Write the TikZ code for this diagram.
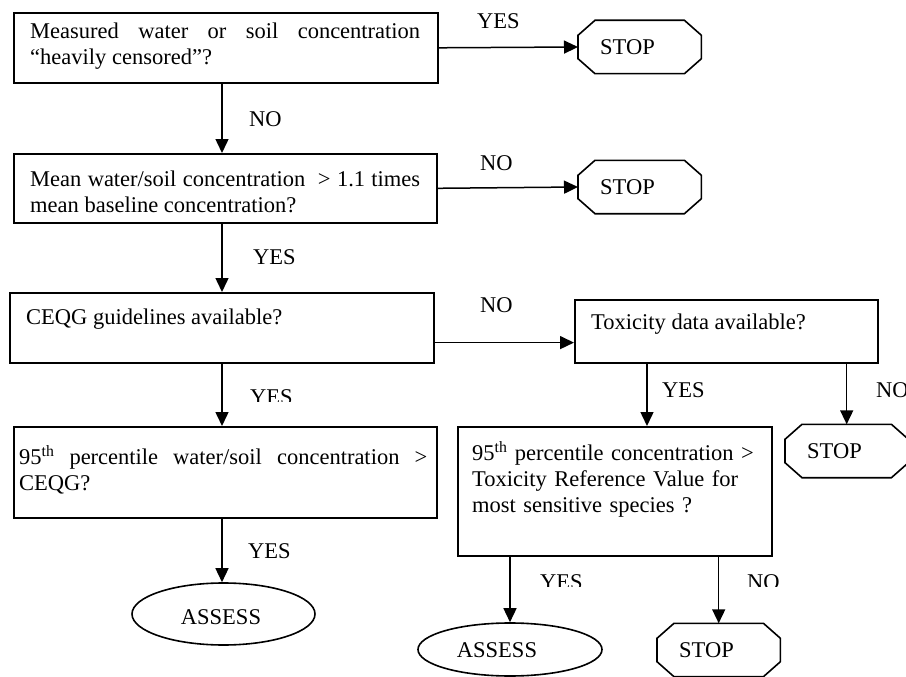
\documentclass[tikz,border=0pt]{standalone}
\usepackage{fontspec}
\setmainfont{Liberation Serif}
\usetikzlibrary{arrows.meta,calc,shapes.geometric}

% STOP terminal: an empty frame node, the word, and a chamfered outline round it
\newcommand\octagonstop[3]{% #1 name, #2 x of left edge, #3 y of centre
  \node[stopframe] (#1) at (#2,#3) {};
  \node[anchor=west] (#1t) at ($(#1.west)+(22,0)$) {STOP};
  \draw[frame] ($(#1.north west)+(17,0)$) -- ($(#1.north east)+(-17,0)$)
    -- ($(#1.north east)+(0,15)$) -- ($(#1.south east)+(0,-15)$)
    -- ($(#1.south east)+(-17,0)$) -- ($(#1.south west)+(17,0)$)
    -- ($(#1.south west)+(0,-15)$) -- ($(#1.north west)+(0,15)$) -- cycle;
}

\begin{document}
\begin{tikzpicture}[x=1pt,y=-1pt,
  every node/.style={font=\fontsize{22.5pt}{26pt}\selectfont, inner sep=0pt},
  frame/.style={line width=1.6pt, line join=miter},
  box/.style={draw, frame, anchor=north west},
  txt/.style={anchor=base west, align=justify},
  lbl/.style={anchor=base west},
  stopframe/.style={anchor=west, minimum width=123pt, minimum height=53pt},
  oval/.style={draw, frame, ellipse},
  arr/.style={line width=1.5pt, -{Triangle[length=14pt,width=13pt]}}]

\clip (0,0) rectangle (906,677);
\fill[white] (0,0) rectangle (906,677);

% x positions of the vertical connectors
\coordinate (colL) at (222,0);
\coordinate (colM) at (647,0);

% decision boxes
\node[box, minimum width=424pt, minimum height=70pt] (b1) at (13,12) {};
\node[txt, text width=390pt] (t1) at (30,39)
  {Measured water or soil concentration\linebreak “heavily censored”?};

\node[box, minimum width=423pt, minimum height=69pt] (b2) at (13,153) {};
\node[txt, text width=390pt] (t2) at (30,186)
  {Mean water/soil concentration \ > 1.1 times\linebreak mean baseline concentration?};

\node[box, minimum width=424pt, minimum height=70pt] (b3) at (9,292) {};
\node[txt, text width=390pt] (t3) at (26,324) {CEQG guidelines available?};

\node[box, minimum width=303pt, minimum height=63pt] (b4) at (574,299) {};
\node[txt, text width=270pt] (t4) at (591,329) {Toxicity data available?};

\node[box, minimum width=423pt, minimum height=91pt] (b6) at (13,426) {};
\node[txt, text width=408pt] (t6) at (19,464)
  {95\textsuperscript{th} percentile water/soil concentration >\linebreak CEQG?};

\node[box, minimum width=314pt, minimum height=129pt] (b5) at (457,426) {};
\node[anchor=base west, text width=295pt, align=left] (t5) at (472,460)
  {95\textsuperscript{th} percentile concentration >\\
   Toxicity Reference Value for\\
   most sensitive species ?};

% terminals
\octagonstop{s1}{578}{47}
\octagonstop{s2}{578}{187}
\octagonstop{s3}{785}{451}
\octagonstop{s4}{657}{650}

\node[oval, minimum width=183pt, minimum height=62pt] (a1) at (223.5,614) {};
\node (a1t) at (221,617) {ASSESS};
\node[oval, minimum width=184pt, minimum height=53pt] (a2) at (510,649.5) {};
\node (a2t) at (497,650) {ASSESS};

% connectors
\draw[arr] (b1.south -| colL) -- (b2.north -| colL);
\draw[arr] (b1.east) -- (s1.west);
\draw[arr] (b2.east) -- (s2.west);
\draw[arr] (b2.south -| colL) -- (b3.north -| colL);
\coordinate (j34) at ($(b3.south east)+(0,-21)$);
\draw[arr] (j34) -- (j34 -| b4.west);
\draw[arr] (b3.south -| colL) -- (b6.north -| colL);
\draw[arr] (b4.south -| colM) -- (b5.north -| colM);
\draw[arr] (b4.south -| s3.north) -- (s3.north);
\draw[arr] (b6.south -| colL) -- (a1.north -| colL);
\draw[arr] (b5.south -| a2.north) -- (a2.north);
\draw[arr] (b5.south -| s4.north) -- (s4.north);

% branch labels
\node[lbl] (l1) at (249,127) {NO};
\node[lbl] (l2) at (477,29) {YES};
\node[lbl] (l3) at (480,170) {NO};
\node[lbl] (l4) at (253,264) {YES};
\node[lbl] (l5) at (480,312) {NO};
\begin{scope}
  \clip (240,380) rectangle (300,401.5);
  \node[lbl] (l6) at (250,404) {YES};
\end{scope}
\node[lbl] (l7) at (662,397) {YES};
\node[lbl] (l8) at (876,397) {NO};
\node[lbl] (l9) at (248,558) {YES};
\begin{scope}
  \clip (520,560) rectangle (800,586);
  \node[lbl] (l10) at (540,589) {YES};
  \node[lbl] (l11) at (747,589) {NO};
\end{scope}
\end{tikzpicture}
\end{document}
